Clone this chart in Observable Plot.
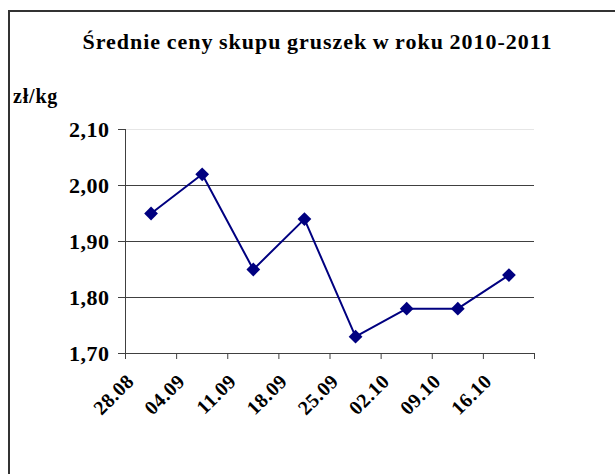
<!DOCTYPE html>
<html>
<head>
<meta charset="utf-8">
<script src="https://cdn.jsdelivr.net/npm/d3@7"></script>
<script src="https://cdn.jsdelivr.net/npm/@observablehq/plot@0.6"></script>
<style>
  body { margin: 0; background: #fff; }
  #wrap { position: relative; width: 615px; height: 474px; overflow: hidden; background: #fff;
          font-family: "Liberation Serif", "Times New Roman", serif; font-weight: bold; color: #000; }
  #frame { position: absolute; left: 8px; top: 10px; width: 800px; height: 800px;
           border-left: 2px solid #333; border-top: 2px solid #333; }
  #title { position: absolute; left: 10px; width: 615px; top: 31px; text-align: center;
           font-size: 22px; line-height: 1; letter-spacing: 1px; word-spacing: -1px; white-space: nowrap; }
  #unit { position: absolute; left: 13px; top: 86px; font-size: 20px; line-height: 1; letter-spacing: 0.8px; }
  #chart { position: absolute; left: 0; top: 0; }
</style>
</head>
<body>
<div id="wrap">
  <div id="frame"></div>
  <div id="chart"></div>
  <div id="title">Średnie ceny skupu gruszek w roku 2010-2011</div>
  <div id="unit">zł/kg</div>
</div>
<script>
const categories = ["28.08", "04.09", "11.09", "18.09", "25.09", "02.10", "09.10", "16.10"];
const prices = [1.95, 2.02, 1.85, 1.94, 1.73, 1.78, 1.78, 1.84];
const yTicks = [1.7, 1.8, 1.9, 2.0, 2.1];
const gridValues = [1.8, 1.9, 2.0];
const topGrid = [2.1];

const data = categories.map((c, i) => ({ pos: i + 0.5, label: c, price: prices[i] }));
const fmt = d => d.toFixed(2).replace(".", ",");

const chart = Plot.plot({
  width: 615,
  height: 474,
  marginLeft: 125,
  marginRight: 81,
  marginTop: 129,
  marginBottom: 121,
  style: { background: "transparent", fontFamily: "'Liberation Serif', 'Times New Roman', serif", overflow: "visible" },
  x: { type: "linear", domain: [0, categories.length] },
  y: { domain: [1.7, 2.1], nice: false },
  marks: [
    Plot.ruleY(topGrid, { stroke: "#e6e6e6" }),
    Plot.ruleY(gridValues, { stroke: "#404040" }),
    Plot.axisY({
      ticks: yTicks, tickSize: 7, tickPadding: 9, tickFormat: fmt, label: null,
      fontSize: 22, fontWeight: "bold", stroke: "#404040", fill: "#000"
    }),
    Plot.axisX({
      ticks: d3.range(categories.length + 1), tickSize: 6, tickFormat: () => "", label: null,
      stroke: "#404040"
    }),
    Plot.ruleX([0], { stroke: "#404040" }),
    Plot.ruleY([1.7], { stroke: "#404040" }),
    Plot.line(data, { x: "pos", y: "price", stroke: "#000080", strokeWidth: 2 }),
    Plot.dot(data, { x: "pos", y: "price", symbol: "diamond2", r: 6.2, fill: "#000080", stroke: "none" }),
    Plot.text(data, {
      x: "pos", frameAnchor: "bottom", text: "label", rotate: -45,
      textAnchor: "end", lineAnchor: "bottom", dx: -16, dy: 29,
      fontSize: 20, fontWeight: "bold", fill: "#000"
    })
  ]
});
chart.querySelectorAll("text").forEach(t => t.setAttribute("letter-spacing", "0.5"));
document.getElementById("chart").appendChild(chart);
</script>
</body>
</html>
